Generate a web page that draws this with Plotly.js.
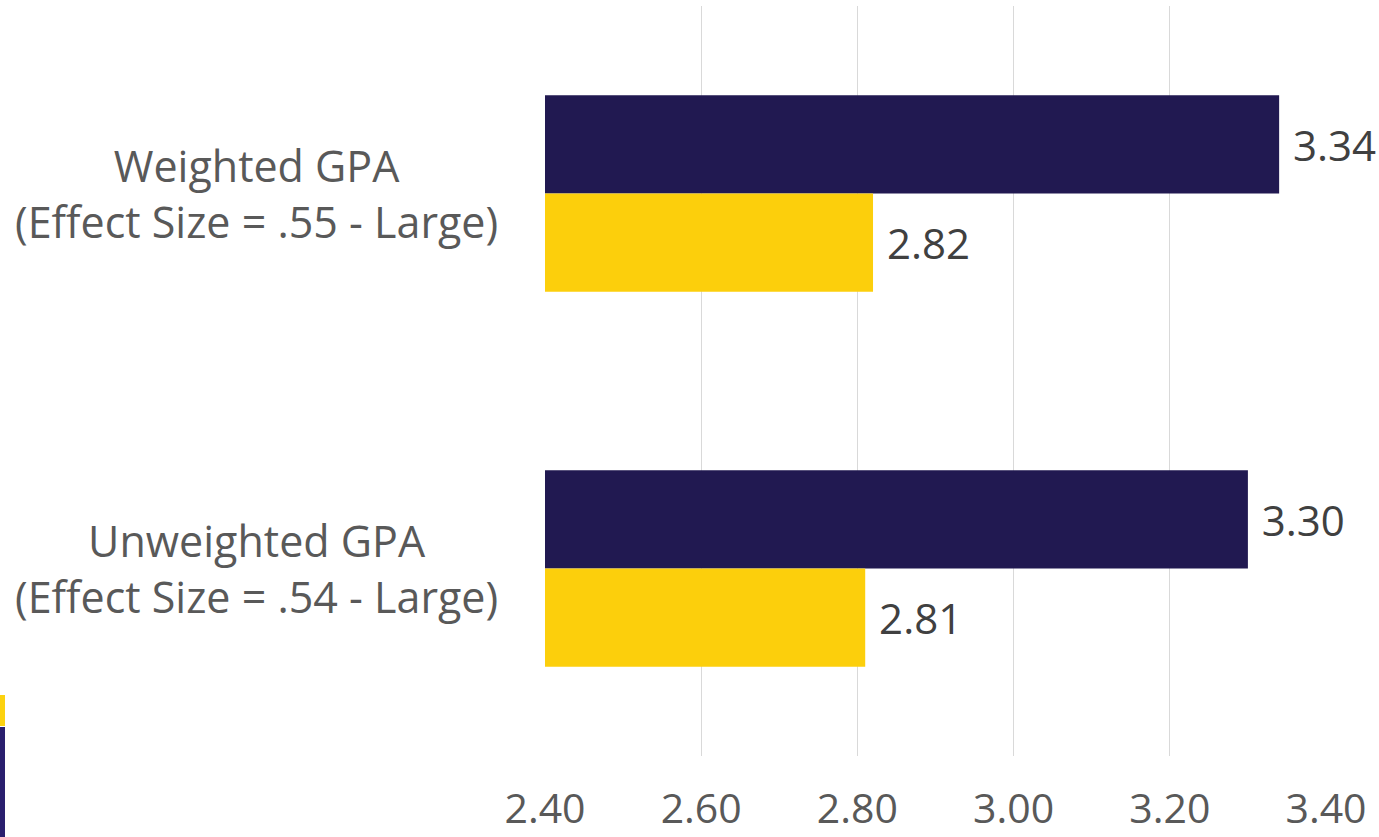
<!DOCTYPE html>
<html>
<head>
<meta charset="utf-8">
<script src="https://cdn.plot.ly/plotly-3.0.1.min.js"></script>
<style>
  html, body { margin: 0; padding: 0; background: #fff; }
  #chart { width: 1379px; height: 837px; }
  .deco { position: absolute; left: 0; width: 5px; }
</style>
</head>
<body>
<div id="chart"></div>
<div class="deco" style="top:695px;height:31px;background:#FCD20F;"></div>
<div class="deco" style="top:727px;height:110px;background:#2A1F6E;"></div>
<script>
const categories = [
  "Weighted GPA<br>(Effect Size = .55 - Large)",
  "Unweighted GPA<br>(Effect Size = .54 - Large)"
];
const seriesNames = ["Group A", "Group B"];
const seriesA = [3.34, 3.30];
const seriesB = [2.82, 2.81];
const tickVals = [2.40, 2.60, 2.80, 3.00, 3.20, 3.40];
const tickText = ["2.40", "2.60", "2.80", "3.00", "3.20", "3.40"];

const fontFam = "'Open Sans', 'Liberation Sans', sans-serif";
const NBSP = "\u00a0";

const traces = [
  {
    type: "bar", orientation: "h", name: seriesNames[0],
    y: categories, x: seriesA,
    marker: { color: "#211951" },
    text: seriesA.map(v => NBSP + v.toFixed(2)), textposition: "outside",
    textfont: { family: fontFam, size: 42, color: "#404040" },
    cliponaxis: false, hoverinfo: "x"
  },
  {
    type: "bar", orientation: "h", name: seriesNames[1],
    y: categories, x: seriesB,
    marker: { color: "#FCCF0C" },
    text: seriesB.map(v => NBSP + v.toFixed(2)), textposition: "outside",
    textfont: { family: fontFam, size: 42, color: "#404040" },
    cliponaxis: false, hoverinfo: "x"
  }
];

const annotations = categories.map(c => ({
  xref: "paper", yref: "y", x: 0, y: c, xanchor: "right", yanchor: "middle",
  xshift: -45, align: "center", showarrow: false, text: c,
  font: { family: fontFam, size: 43, color: "#595959" }
}));

const layout = {
  width: 1379, height: 837,
  margin: { l: 545, r: 53, t: 6, b: 81, pad: 0 },
  paper_bgcolor: "#ffffff", plot_bgcolor: "#ffffff",
  showlegend: false,
  barmode: "group", bargap: 0.476, bargroupgap: 0,
  font: { family: fontFam, color: "#595959" },
  xaxis: {
    range: [2.4, 3.4], tickvals: tickVals, ticktext: tickText,
    showgrid: true, gridcolor: "#D9D9D9", gridwidth: 1,
    zeroline: false, showline: false,
    ticks: "outside", ticklen: 17, tickcolor: "rgba(0,0,0,0)",
    tickfont: { family: fontFam, size: 41, color: "#595959" },
    fixedrange: true
  },
  yaxis: {
    type: "category", autorange: "reversed",
    showticklabels: false, showgrid: false, zeroline: false, showline: false,
    ticks: "", fixedrange: true
  },
  annotations: annotations
};

Plotly.newPlot("chart", traces, layout, { displayModeBar: false, staticPlot: true });
</script>
</body>
</html>
